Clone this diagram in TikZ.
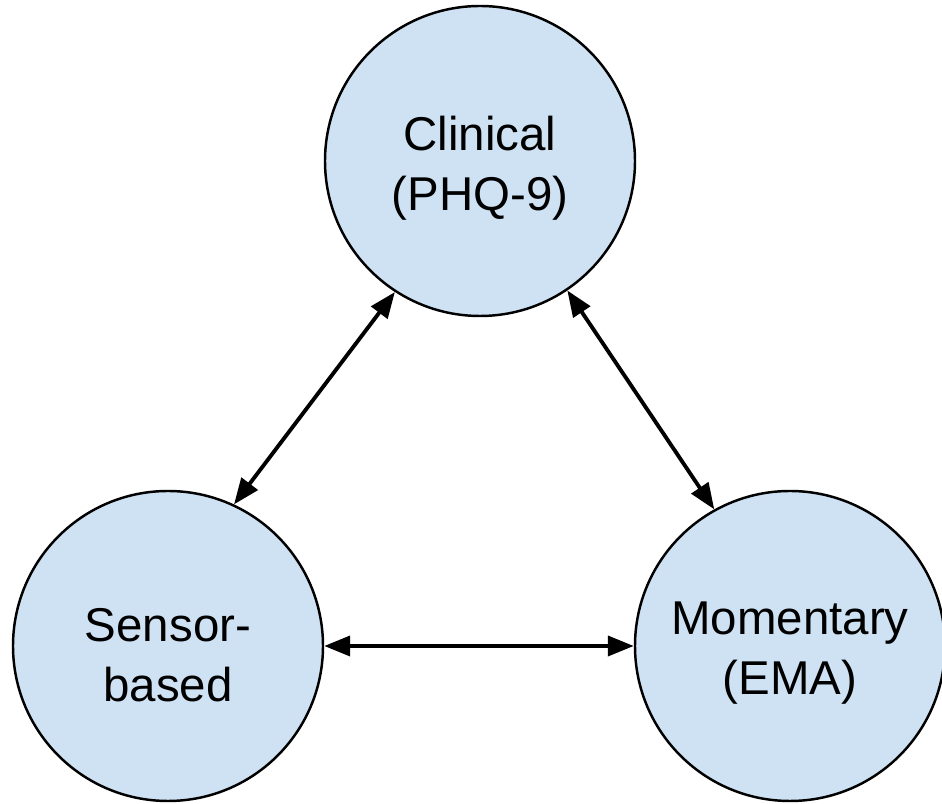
\documentclass[tikz,border=0pt]{standalone}
\usepackage{fontspec}
\setmainfont{Liberation Sans}
\usetikzlibrary{arrows.meta}
\definecolor{nodeblue}{HTML}{CFE2F3}
\tikzset{
    measure/.style={circle, draw=black, line width=1.4pt, fill=nodeblue,
        minimum size=6.2cm, inner sep=0pt},
    caption/.style={align=center, inner sep=0pt,
        font=\fontsize{27}{34}\selectfont},
    link/.style={{Triangle[length=0.52cm,width=0.4cm]}-{Triangle[length=0.52cm,width=0.4cm]},
        line width=2.2pt}
}
\begin{document}
\begin{tikzpicture}
            % 三种测量方式
            \useasboundingbox (0, 0) rectangle (18.84, 16.08);

            \node[measure] (clin) at (9.6, 12.86) {};
            \node[measure] (sens) at (3.36, 3.16) {};
            \node[measure] (moment) at (15.8, 3.16) {};

            \node[caption] (clin-txt) at ([yshift=-0.14cm]clin.center) {Clinical\\(PHQ-9)};
            \node[caption] (sens-txt) at ([yshift=-0.18cm]sens.center) {Sensor-\\based};
            \node[caption] (moment-txt) at ([yshift=-0.14cm]moment.center) {Momentary\\(EMA)};

            \draw[link] (clin.237) -- (sens.65);
            \draw[link] (clin.304) -- (moment.119);
            \draw[link] (sens.east) -- (moment.west);
        \end{tikzpicture}
\end{document}
